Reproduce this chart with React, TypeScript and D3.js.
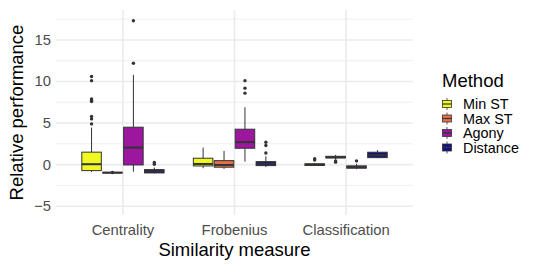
import * as d3 from "d3";
import { useEffect, useRef } from "react";

const categories = ["Centrality", "Frobenius", "Classification"];
const methods = ["Min ST", "Max ST", "Agony", "Distance"];
const colors = ["#F0F921", "#EC6E47", "#9C179E", "#11118A"];

// box stats, indexed [category][method]
const whiskerLow = [
  [-0.88, -1.05, -0.85, -1.05],
  [-0.43, -0.52, 0.36, -0.3],
  [-0.12, 0.6, -0.55, 0.78],
];
const q1 = [
  [-0.72, -1.0, -0.04, -1.0],
  [-0.16, -0.31, 1.97, -0.12],
  [-0.1, 0.8, -0.43, 0.84],
];
const median = [
  [0.05, -0.97, 2.05, -0.8],
  [0.08, -0.04, 2.7, 0.12],
  [0.0, 0.89, -0.3, 1.13],
];
const q3 = [
  [1.5, -0.93, 4.5, -0.6],
  [0.77, 0.48, 4.26, 0.36],
  [0.1, 1.0, -0.15, 1.49],
];
const whiskerHigh = [
  [4.45, -0.9, 10.8, -0.35],
  [2.05, 1.65, 6.9, 1.0],
  [0.2, 1.17, 0.1, 1.73],
];
const outliers = [
  [[4.9, 5.5, 5.8, 7.6, 7.7, 7.9, 10.1, 10.6], [-0.95], [12.2, 17.3], [0.05, 0.25]],
  [[], [], [8.6, 9.2, 10.1], [1.4, 2.3, 2.7]],
  [[0.55, 0.7], [0.3, 0.45], [0.45], []],
];

const yTicks = [-5, 0, 5, 10, 15];
const yMinor = [-2.5, 2.5, 7.5, 12.5, 17.5];

export default function App() {
  const ref = useRef<SVGSVGElement>(null);

  useEffect(() => {
    const width = 540;
    const height = 270;
    const font = "'Liberation Sans', Arial, Helvetica, sans-serif";
    const left = 56, right = 413, top = 10, bottom = 215;

    const svg = d3.select(ref.current);
    svg.selectAll("*").remove();
    svg.attr("width", width).attr("height", height);

    const y = d3.scaleLinear().domain([-6.06, 18.6]).range([bottom, top]);
    const x = d3.scalePoint().domain(categories).range([left, right]).padding(0.6);
    const step = x.step();
    const dodge = d3.scaleBand().domain(methods).range([-0.375 * step, 0.375 * step]);
    const boxW = 0.175 * step;

    const grid = svg.append("g");
    grid.selectAll("line.minor").data(yMinor).enter().append("line")
      .attr("x1", left).attr("x2", right)
      .attr("y1", d => y(d)).attr("y2", d => y(d))
      .attr("stroke", "#EBEBEB").attr("stroke-width", 0.8);
    grid.selectAll("line.major").data(yTicks).enter().append("line")
      .attr("x1", left).attr("x2", right)
      .attr("y1", d => y(d)).attr("y2", d => y(d))
      .attr("stroke", "#EBEBEB").attr("stroke-width", 1.6);
    grid.selectAll("line.vert").data(categories).enter().append("line")
      .attr("x1", d => x(d)!).attr("x2", d => x(d)!)
      .attr("y1", top).attr("y2", bottom)
      .attr("stroke", "#EBEBEB").attr("stroke-width", 1.6);

    const stroke = "#333333";
    categories.forEach((cat, ci) => {
      methods.forEach((m, mi) => {
        const cx = x(cat)! + dodge(m)! + dodge.bandwidth() / 2;
        const g = svg.append("g");
        g.append("line").attr("x1", cx).attr("x2", cx)
          .attr("y1", y(q3[ci][mi])).attr("y2", y(whiskerHigh[ci][mi]))
          .attr("stroke", stroke).attr("stroke-width", 1);
        g.append("line").attr("x1", cx).attr("x2", cx)
          .attr("y1", y(q1[ci][mi])).attr("y2", y(whiskerLow[ci][mi]))
          .attr("stroke", stroke).attr("stroke-width", 1);
        g.append("rect")
          .attr("x", cx - boxW / 2).attr("width", boxW)
          .attr("y", y(q3[ci][mi])).attr("height", y(q1[ci][mi]) - y(q3[ci][mi]))
          .attr("fill", colors[mi]).attr("stroke", stroke).attr("stroke-width", 1);
        g.append("line")
          .attr("x1", cx - boxW / 2).attr("x2", cx + boxW / 2)
          .attr("y1", y(median[ci][mi])).attr("y2", y(median[ci][mi]))
          .attr("stroke", stroke).attr("stroke-width", 2);
        g.selectAll("circle").data(outliers[ci][mi]).enter().append("circle")
          .attr("cx", cx).attr("cy", d => y(d)).attr("r", 1.7)
          .attr("fill", stroke);
      });
    });

    // axis tick labels
    svg.append("g").selectAll("text").data(yTicks).enter().append("text")
      .attr("x", 51).attr("y", d => y(d) + 5)
      .attr("text-anchor", "end").attr("font-family", font).attr("font-size", 14.8)
      .attr("fill", "#4D4D4D")
      .text(d => (d < 0 ? "\u2212" + Math.abs(d) : String(d)));
    svg.append("g").selectAll("text").data(categories).enter().append("text")
      .attr("x", d => x(d)!).attr("y", 234.5)
      .attr("text-anchor", "middle").attr("font-family", font).attr("font-size", 14.8)
      .attr("fill", "#4D4D4D")
      .text(d => d);

    // axis titles
    svg.append("text")
      .attr("x", (left + right) / 2).attr("y", 256)
      .attr("text-anchor", "middle").attr("font-family", font).attr("font-size", 18.5)
      .attr("fill", "#000").text("Similarity measure");
    svg.append("text")
      .attr("transform", `translate(23,${(top + bottom) / 2}) rotate(-90)`)
      .attr("text-anchor", "middle").attr("font-family", font).attr("font-size", 18.5)
      .attr("fill", "#000").text("Relative performance");

    // legend
    const lg = svg.append("g").attr("transform", "translate(442,0)");
    lg.append("text").attr("x", 0).attr("y", 86.5)
      .attr("font-family", font).attr("font-size", 18.5).attr("fill", "#000")
      .text("Method");
    methods.forEach((m, i) => {
      const cy = 104 + i * 14.5;
      const k = lg.append("g");
      k.append("line").attr("x1", 5).attr("x2", 5).attr("y1", cy - 6).attr("y2", cy + 6)
        .attr("stroke", stroke).attr("stroke-width", 0.8);
      k.append("rect").attr("x", 0.5).attr("y", cy - 3.5).attr("width", 9).attr("height", 7)
        .attr("fill", colors[i]).attr("stroke", stroke).attr("stroke-width", 0.8);
      k.append("line").attr("x1", 0.5).attr("x2", 9.5).attr("y1", cy).attr("y2", cy)
        .attr("stroke", stroke).attr("stroke-width", 1.2);
      lg.append("text").attr("x", 21).attr("y", cy + 5)
        .attr("font-family", font).attr("font-size", 14.4).attr("fill", "#000")
        .text(m);
    });
  }, []);

  return <svg ref={ref} style={{ position: "absolute", left: 0, top: 0 }} />;
}
